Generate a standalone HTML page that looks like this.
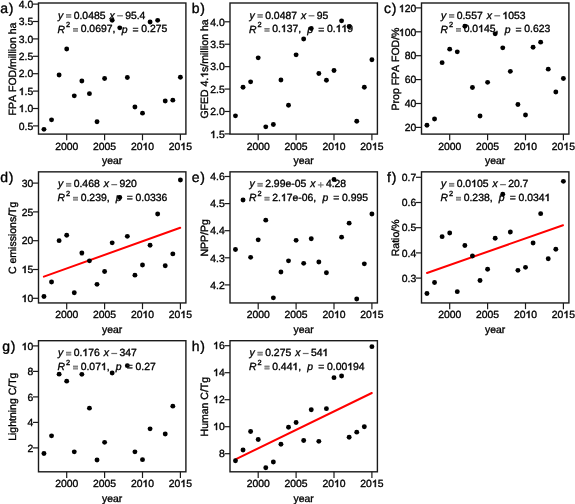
<!DOCTYPE html>
<html><head><meta charset="utf-8"><style>
html,body{margin:0;padding:0;background:#fff;}
body{width:575px;height:504px;overflow:hidden;}
svg{display:block;will-change:transform;filter:blur(0.3px);}
text{font-family:"Liberation Sans",sans-serif;fill:#000;stroke:#000;stroke-width:0.35px;font-kerning:none;text-rendering:geometricPrecision;}
.h1{fill:none;stroke:none;}
#g1{fill:#000;stroke:#000;stroke-width:0.55px;}
.bx{fill:none;stroke:#1a1a1a;stroke-width:1.4;}
.tk{stroke:#1a1a1a;stroke-width:1.2;}
.xt{font-size:10.4px;text-anchor:middle;}
.yl{font-size:10.5px;text-anchor:middle;}
.yt{font-size:10.4px;text-anchor:end;}
.pl{font-size:14.0px;}
.eq{font-size:10.4px;}
.it{font-style:italic;}
.sup{font-size:7.4px;}
.eq3{fill:#222;stroke:#222;}
.gq{fill:#6a6a6a;}
.gq2{fill:#444;}
.rl{stroke:#ff0000;stroke-width:2;stroke-linecap:round;}
circle{fill:#000;}
</style></head><body>
<svg width="575" height="504" viewBox="0 0 575 504">
<defs><path id="g1" vector-effect="non-scaling-stroke" d="M583,0L763,0L763,1409L646,1409C615,1347 562,1283 488,1217C414,1151 326,1098 223,1062L223,889C280,909 344,940 416,981C488,1022 543,1063 583,1103Z"/></defs>
<g><rect x="38.5" y="3" width="147.4" height="131.1" class="bx"/>
<line x1="66.7" y1="134.1" x2="66.7" y2="140.3" class="tk"/>
<text x="55.13" y="150" class="" style="font-size:10.4px">2000</text>
<line x1="104.6" y1="134.1" x2="104.6" y2="140.3" class="tk"/>
<text x="93.03" y="150" class="" style="font-size:10.4px">2005</text>
<line x1="142.5" y1="134.1" x2="142.5" y2="140.3" class="tk"/>
<text x="130.93" y="150" class="" style="font-size:10.4px">20<tspan class="h1">1</tspan>0</text><use href="#g1" transform="translate(142.5,150) scale(0.00508,-0.00508)"/>
<line x1="180.4" y1="134.1" x2="180.4" y2="140.3" class="tk"/>
<text x="168.83" y="150" class="" style="font-size:10.4px">20<tspan class="h1">1</tspan>5</text><use href="#g1" transform="translate(180.4,150) scale(0.00508,-0.00508)"/>
<text x="102.08" y="164" class="" style="font-size:10.4px">year</text>
<line x1="33" y1="4.1" x2="38.5" y2="4.1" class="tk"/>
<text x="18.74" y="8" class="" style="font-size:10.4px">4.0</text>
<line x1="33" y1="21.5" x2="38.5" y2="21.5" class="tk"/>
<text x="18.74" y="25" class="" style="font-size:10.4px">3.5</text>
<line x1="33" y1="38.9" x2="38.5" y2="38.9" class="tk"/>
<text x="18.74" y="43" class="" style="font-size:10.4px">3.0</text>
<line x1="33" y1="56.3" x2="38.5" y2="56.3" class="tk"/>
<text x="18.74" y="60" class="" style="font-size:10.4px">2.5</text>
<line x1="33" y1="73.7" x2="38.5" y2="73.7" class="tk"/>
<text x="18.74" y="77" class="" style="font-size:10.4px">2.0</text>
<line x1="33" y1="91.1" x2="38.5" y2="91.1" class="tk"/>
<text x="18.74" y="95" class="" style="font-size:10.4px"><tspan class="h1">1</tspan>.5</text><use href="#g1" transform="translate(18.74,95) scale(0.00508,-0.00508)"/>
<line x1="33" y1="108.5" x2="38.5" y2="108.5" class="tk"/>
<text x="18.74" y="112" class="" style="font-size:10.4px"><tspan class="h1">1</tspan>.0</text><use href="#g1" transform="translate(18.74,112) scale(0.00508,-0.00508)"/>
<line x1="33" y1="125.9" x2="38.5" y2="125.9" class="tk"/>
<text x="18.74" y="130" class="" style="font-size:10.4px">0.5</text>
<g transform="translate(16,69) rotate(-90)"><text x="-46.39" y="0" class="" style="font-size:10.5px">FPA FOD/million ha</text></g>
<text x="0.21" y="13.3" class="pl">a</text>
<text x="8.7" y="13.3" class="pl">)</text>
<circle cx="43.96" cy="129.35" r="2.45"/>
<circle cx="51.54" cy="119.85" r="2.45"/>
<circle cx="59.12" cy="75.05" r="2.45"/>
<circle cx="66.7" cy="48.95" r="2.45"/>
<circle cx="74.28" cy="95.85" r="2.45"/>
<circle cx="81.86" cy="81.05" r="2.45"/>
<circle cx="89.44" cy="93.65" r="2.45"/>
<circle cx="97.02" cy="121.75" r="2.45"/>
<circle cx="104.6" cy="78.55" r="2.45"/>
<circle cx="112.18" cy="20.35" r="2.45"/>
<circle cx="119.76" cy="27.85" r="2.45"/>
<circle cx="127.34" cy="77.55" r="2.45"/>
<circle cx="134.92" cy="106.95" r="2.45"/>
<circle cx="142.5" cy="113.15" r="2.45"/>
<circle cx="150.08" cy="21.95" r="2.45"/>
<circle cx="157.66" cy="20.35" r="2.45"/>
<circle cx="165.24" cy="100.95" r="2.45"/>
<circle cx="172.82" cy="100.15" r="2.45"/>
<circle cx="180.4" cy="77.25" r="2.45"/>
<text x="58" y="18.6" class="eq it">y</text>
<rect x="66" y="14.1" width="5.2" height="3.7" fill="#b0b0b0"/><rect x="66" y="14.1" width="5.2" height="1.2" fill="#7a7a7a"/><rect x="66" y="16.6" width="5.2" height="1.2" fill="#888"/>
<text x="73.7" y="19" class="" style="font-size:10.4px">0.0485</text>
<text x="109.51" y="18.6" class="eq it">x</text>
<rect x="117.11" y="15.2" width="5.8" height="1.2" fill="#6a6a6a"/>
<text x="125.18" y="19" class="" style="font-size:10.4px">95.4</text>
<text x="57.5" y="32.5" class="eq it">R</text>
<text x="66.05" y="27.4" class="sup">2</text>
<rect x="73" y="28" width="5" height="3.7" fill="#b0b0b0"/><rect x="73" y="28" width="5" height="1.2" fill="#7a7a7a"/><rect x="73" y="30.5" width="5" height="1.2" fill="#888"/>
<text x="80.7" y="32" class="" style="font-size:10.4px">0.0697,</text>
<text x="121.65" y="32.5" class="eq it">p</text>
<text x="132.59" y="32.5" class="eq eq3">=</text>
<text x="141.3" y="32" class="" style="font-size:10.4px">0.275</text></g>
<g><rect x="230" y="3" width="147.4" height="131.1" class="bx"/>
<line x1="258.2" y1="134.1" x2="258.2" y2="140.3" class="tk"/>
<text x="246.63" y="150" class="" style="font-size:10.4px">2000</text>
<line x1="296.1" y1="134.1" x2="296.1" y2="140.3" class="tk"/>
<text x="284.53" y="150" class="" style="font-size:10.4px">2005</text>
<line x1="334" y1="134.1" x2="334" y2="140.3" class="tk"/>
<text x="322.43" y="150" class="" style="font-size:10.4px">20<tspan class="h1">1</tspan>0</text><use href="#g1" transform="translate(334,150) scale(0.00508,-0.00508)"/>
<line x1="371.9" y1="134.1" x2="371.9" y2="140.3" class="tk"/>
<text x="360.33" y="150" class="" style="font-size:10.4px">20<tspan class="h1">1</tspan>5</text><use href="#g1" transform="translate(371.9,150) scale(0.00508,-0.00508)"/>
<text x="293.58" y="164" class="" style="font-size:10.4px">year</text>
<line x1="224.5" y1="21.8" x2="230" y2="21.8" class="tk"/>
<text x="210.24" y="26" class="" style="font-size:10.4px">4.0</text>
<line x1="224.5" y1="44.22" x2="230" y2="44.22" class="tk"/>
<text x="210.24" y="48" class="" style="font-size:10.4px">3.5</text>
<line x1="224.5" y1="66.64" x2="230" y2="66.64" class="tk"/>
<text x="210.24" y="70" class="" style="font-size:10.4px">3.0</text>
<line x1="224.5" y1="89.06" x2="230" y2="89.06" class="tk"/>
<text x="210.24" y="93" class="" style="font-size:10.4px">2.5</text>
<line x1="224.5" y1="111.48" x2="230" y2="111.48" class="tk"/>
<text x="210.24" y="115" class="" style="font-size:10.4px">2.0</text>
<line x1="224.5" y1="133.9" x2="230" y2="133.9" class="tk"/>
<text x="210.24" y="138" class="" style="font-size:10.4px"><tspan class="h1">1</tspan>.5</text><use href="#g1" transform="translate(210.24,138) scale(0.00508,-0.00508)"/>
<g transform="translate(208,69) rotate(-90)"><text x="-49.6" y="0" class="" style="font-size:10.5px">GFED 4.<tspan class="h1">1</tspan>s/million ha</text><use href="#g1" transform="translate(-8.76,0) scale(0.00513,-0.00513)"/></g>
<text x="191.71" y="13.3" class="pl">b</text>
<text x="200.2" y="13.3" class="pl">)</text>
<circle cx="235.46" cy="115.85" r="2.45"/>
<circle cx="243.04" cy="87.25" r="2.45"/>
<circle cx="250.62" cy="81.85" r="2.45"/>
<circle cx="258.2" cy="57.85" r="2.45"/>
<circle cx="265.78" cy="126.85" r="2.45"/>
<circle cx="273.36" cy="124.45" r="2.45"/>
<circle cx="280.94" cy="79.95" r="2.45"/>
<circle cx="288.52" cy="105.25" r="2.45"/>
<circle cx="296.1" cy="54.85" r="2.45"/>
<circle cx="303.68" cy="38.95" r="2.45"/>
<circle cx="311.26" cy="28.45" r="2.45"/>
<circle cx="318.84" cy="73.45" r="2.45"/>
<circle cx="326.42" cy="80.25" r="2.45"/>
<circle cx="334" cy="70.45" r="2.45"/>
<circle cx="341.58" cy="20.85" r="2.45"/>
<circle cx="349.16" cy="26.55" r="2.45"/>
<circle cx="356.74" cy="121.25" r="2.45"/>
<circle cx="364.32" cy="87.25" r="2.45"/>
<circle cx="371.9" cy="59.75" r="2.45"/>
<text x="249.5" y="18.6" class="eq it">y</text>
<rect x="257.5" y="14.1" width="5.2" height="3.7" fill="#b0b0b0"/><rect x="257.5" y="14.1" width="5.2" height="1.2" fill="#7a7a7a"/><rect x="257.5" y="16.6" width="5.2" height="1.2" fill="#888"/>
<text x="265.2" y="19" class="" style="font-size:10.4px">0.0487</text>
<text x="301.01" y="18.6" class="eq it">x</text>
<rect x="308.61" y="15.2" width="5.8" height="1.2" fill="#6a6a6a"/>
<text x="316.68" y="19" class="" style="font-size:10.4px">95</text>
<text x="249" y="32.5" class="eq it">R</text>
<text x="257.55" y="27.4" class="sup">2</text>
<rect x="264.5" y="28" width="5" height="3.7" fill="#b0b0b0"/><rect x="264.5" y="28" width="5" height="1.2" fill="#7a7a7a"/><rect x="264.5" y="30.5" width="5" height="1.2" fill="#888"/>
<text x="272.2" y="32" class="" style="font-size:10.4px">0.<tspan class="h1">1</tspan>37,</text><use href="#g1" transform="translate(280.87,32) scale(0.00508,-0.00508)"/>
<text x="307.36" y="32.5" class="eq it">p</text>
<text x="318.3" y="32.5" class="eq eq3">=</text>
<text x="327.01" y="32" class="" style="font-size:10.4px">0.<tspan class="h1">1</tspan><tspan class="h1">1</tspan>9</text><use href="#g1" transform="translate(335.69,32) scale(0.00508,-0.00508)"/><use href="#g1" transform="translate(341.47,32) scale(0.00508,-0.00508)"/></g>
<g><rect x="421.5" y="3" width="147.4" height="131.1" class="bx"/>
<line x1="449.7" y1="134.1" x2="449.7" y2="140.3" class="tk"/>
<text x="438.13" y="150" class="" style="font-size:10.4px">2000</text>
<line x1="487.6" y1="134.1" x2="487.6" y2="140.3" class="tk"/>
<text x="476.03" y="150" class="" style="font-size:10.4px">2005</text>
<line x1="525.5" y1="134.1" x2="525.5" y2="140.3" class="tk"/>
<text x="513.93" y="150" class="" style="font-size:10.4px">20<tspan class="h1">1</tspan>0</text><use href="#g1" transform="translate(525.5,150) scale(0.00508,-0.00508)"/>
<line x1="563.4" y1="134.1" x2="563.4" y2="140.3" class="tk"/>
<text x="551.83" y="150" class="" style="font-size:10.4px">20<tspan class="h1">1</tspan>5</text><use href="#g1" transform="translate(563.4,150) scale(0.00508,-0.00508)"/>
<text x="485.08" y="164" class="" style="font-size:10.4px">year</text>
<line x1="416" y1="7.9" x2="421.5" y2="7.9" class="tk"/>
<text x="398.85" y="12" class="" style="font-size:10.4px"><tspan class="h1">1</tspan>20</text><use href="#g1" transform="translate(398.85,12) scale(0.00508,-0.00508)"/>
<line x1="416" y1="31.8" x2="421.5" y2="31.8" class="tk"/>
<text x="398.85" y="36" class="" style="font-size:10.4px"><tspan class="h1">1</tspan>00</text><use href="#g1" transform="translate(398.85,36) scale(0.00508,-0.00508)"/>
<line x1="416" y1="55.7" x2="421.5" y2="55.7" class="tk"/>
<text x="404.63" y="59" class="" style="font-size:10.4px">80</text>
<line x1="416" y1="79.6" x2="421.5" y2="79.6" class="tk"/>
<text x="404.63" y="83" class="" style="font-size:10.4px">60</text>
<line x1="416" y1="103.5" x2="421.5" y2="103.5" class="tk"/>
<text x="404.63" y="107" class="" style="font-size:10.4px">40</text>
<line x1="416" y1="127.4" x2="421.5" y2="127.4" class="tk"/>
<text x="404.63" y="131" class="" style="font-size:10.4px">20</text>
<g transform="translate(399,69) rotate(-90)"><text x="-41.43" y="0" class="" style="font-size:10.5px">Prop FPA FOD/%</text></g>
<text x="384" y="13.3" class="pl">c</text>
<text x="391.7" y="13.3" class="pl">)</text>
<circle cx="426.96" cy="125.25" r="2.45"/>
<circle cx="434.54" cy="119.05" r="2.45"/>
<circle cx="442.12" cy="62.65" r="2.45"/>
<circle cx="449.7" cy="49.15" r="2.45"/>
<circle cx="457.28" cy="51.85" r="2.45"/>
<circle cx="464.86" cy="26.25" r="2.45"/>
<circle cx="472.44" cy="87.45" r="2.45"/>
<circle cx="480.02" cy="116.05" r="2.45"/>
<circle cx="487.6" cy="82.35" r="2.45"/>
<circle cx="495.18" cy="33.85" r="2.45"/>
<circle cx="502.76" cy="47.85" r="2.45"/>
<circle cx="510.34" cy="71.35" r="2.45"/>
<circle cx="517.92" cy="104.45" r="2.45"/>
<circle cx="525.5" cy="115.05" r="2.45"/>
<circle cx="533.08" cy="47.25" r="2.45"/>
<circle cx="540.66" cy="42.15" r="2.45"/>
<circle cx="548.24" cy="69.15" r="2.45"/>
<circle cx="555.82" cy="92.05" r="2.45"/>
<circle cx="563.4" cy="78.55" r="2.45"/>
<text x="441" y="18.6" class="eq it">y</text>
<rect x="449" y="14.1" width="5.2" height="3.7" fill="#b0b0b0"/><rect x="449" y="14.1" width="5.2" height="1.2" fill="#7a7a7a"/><rect x="449" y="16.6" width="5.2" height="1.2" fill="#888"/>
<text x="456.7" y="19" class="" style="font-size:10.4px">0.557</text>
<text x="486.73" y="18.6" class="eq it">x</text>
<rect x="494.33" y="15.2" width="5.8" height="1.2" fill="#6a6a6a"/>
<text x="502.4" y="19" class="" style="font-size:10.4px"><tspan class="h1">1</tspan>053</text><use href="#g1" transform="translate(502.4,19) scale(0.00508,-0.00508)"/>
<text x="440.5" y="32.5" class="eq it">R</text>
<text x="449.05" y="27.4" class="sup">2</text>
<rect x="456" y="28" width="5" height="3.7" fill="#b0b0b0"/><rect x="456" y="28" width="5" height="1.2" fill="#7a7a7a"/><rect x="456" y="30.5" width="5" height="1.2" fill="#888"/>
<text x="463.7" y="32" class="" style="font-size:10.4px">0.0<tspan class="h1">1</tspan>45,</text><use href="#g1" transform="translate(478.16,32) scale(0.00508,-0.00508)"/>
<text x="504.65" y="32.5" class="eq it">p</text>
<text x="515.59" y="32.5" class="eq eq3">=</text>
<text x="524.3" y="32" class="" style="font-size:10.4px">0.623</text></g>
<g><rect x="38.5" y="171.85" width="147.4" height="131.1" class="bx"/>
<line x1="66.7" y1="302.95" x2="66.7" y2="309.15" class="tk"/>
<text x="55.13" y="318" class="" style="font-size:10.4px">2000</text>
<line x1="104.6" y1="302.95" x2="104.6" y2="309.15" class="tk"/>
<text x="93.03" y="318" class="" style="font-size:10.4px">2005</text>
<line x1="142.5" y1="302.95" x2="142.5" y2="309.15" class="tk"/>
<text x="130.93" y="318" class="" style="font-size:10.4px">20<tspan class="h1">1</tspan>0</text><use href="#g1" transform="translate(142.5,318) scale(0.00508,-0.00508)"/>
<line x1="180.4" y1="302.95" x2="180.4" y2="309.15" class="tk"/>
<text x="168.83" y="318" class="" style="font-size:10.4px">20<tspan class="h1">1</tspan>5</text><use href="#g1" transform="translate(180.4,318) scale(0.00508,-0.00508)"/>
<text x="102.08" y="333" class="" style="font-size:10.4px">year</text>
<line x1="33" y1="183.1" x2="38.5" y2="183.1" class="tk"/>
<text x="21.63" y="187" class="" style="font-size:10.4px">30</text>
<line x1="33" y1="211.9" x2="38.5" y2="211.9" class="tk"/>
<text x="21.63" y="216" class="" style="font-size:10.4px">25</text>
<line x1="33" y1="240.7" x2="38.5" y2="240.7" class="tk"/>
<text x="21.63" y="244" class="" style="font-size:10.4px">20</text>
<line x1="33" y1="269.5" x2="38.5" y2="269.5" class="tk"/>
<text x="21.63" y="273" class="" style="font-size:10.4px"><tspan class="h1">1</tspan>5</text><use href="#g1" transform="translate(21.63,273) scale(0.00508,-0.00508)"/>
<line x1="33" y1="298.3" x2="38.5" y2="298.3" class="tk"/>
<text x="21.63" y="302" class="" style="font-size:10.4px"><tspan class="h1">1</tspan>0</text><use href="#g1" transform="translate(21.63,302) scale(0.00508,-0.00508)"/>
<g transform="translate(16,237.85) rotate(-90)"><text x="-36.18" y="0" class="" style="font-size:10.5px">C emissions/Tg</text></g>
<text x="0.21" y="182.15" class="pl">d</text>
<text x="8.7" y="182.15" class="pl">)</text>
<line x1="43.9" y1="276.6" x2="180.2" y2="227.8" class="rl"/>
<circle cx="43.96" cy="296.45" r="2.45"/>
<circle cx="51.54" cy="281.95" r="2.45"/>
<circle cx="59.12" cy="240.65" r="2.45"/>
<circle cx="66.7" cy="235.25" r="2.45"/>
<circle cx="74.28" cy="292.75" r="2.45"/>
<circle cx="81.86" cy="253.05" r="2.45"/>
<circle cx="89.44" cy="260.85" r="2.45"/>
<circle cx="97.02" cy="284.35" r="2.45"/>
<circle cx="104.6" cy="271.45" r="2.45"/>
<circle cx="112.18" cy="242.85" r="2.45"/>
<circle cx="119.76" cy="197.45" r="2.45"/>
<circle cx="127.34" cy="236.35" r="2.45"/>
<circle cx="134.92" cy="275.15" r="2.45"/>
<circle cx="142.5" cy="264.95" r="2.45"/>
<circle cx="150.08" cy="245.25" r="2.45"/>
<circle cx="157.66" cy="213.95" r="2.45"/>
<circle cx="165.24" cy="265.75" r="2.45"/>
<circle cx="172.82" cy="253.85" r="2.45"/>
<circle cx="180.4" cy="179.95" r="2.45"/>
<text x="58" y="187.45" class="eq it">y</text>
<rect x="66" y="182.95" width="5.2" height="3.7" fill="#b0b0b0"/><rect x="66" y="182.95" width="5.2" height="1.2" fill="#7a7a7a"/><rect x="66" y="185.45" width="5.2" height="1.2" fill="#888"/>
<text x="73.7" y="187" class="" style="font-size:10.4px">0.468</text>
<text x="103.73" y="187.45" class="eq it">x</text>
<rect x="111.33" y="184.05" width="5.8" height="1.2" fill="#6a6a6a"/>
<text x="119.4" y="187" class="" style="font-size:10.4px">920</text>
<text x="57.5" y="201.35" class="eq it">R</text>
<text x="66.05" y="196.25" class="sup">2</text>
<rect x="73" y="196.85" width="5" height="3.7" fill="#b0b0b0"/><rect x="73" y="196.85" width="5" height="1.2" fill="#7a7a7a"/><rect x="73" y="199.35" width="5" height="1.2" fill="#888"/>
<text x="80.7" y="201" class="" style="font-size:10.4px">0.239,</text>
<text x="115.86" y="201.35" class="eq it">p</text>
<text x="126.8" y="201.35" class="eq eq3">=</text>
<text x="135.51" y="201" class="" style="font-size:10.4px">0.0336</text></g>
<g><rect x="230" y="171.85" width="147.4" height="131.1" class="bx"/>
<line x1="258.2" y1="302.95" x2="258.2" y2="309.15" class="tk"/>
<text x="246.63" y="318" class="" style="font-size:10.4px">2000</text>
<line x1="296.1" y1="302.95" x2="296.1" y2="309.15" class="tk"/>
<text x="284.53" y="318" class="" style="font-size:10.4px">2005</text>
<line x1="334" y1="302.95" x2="334" y2="309.15" class="tk"/>
<text x="322.43" y="318" class="" style="font-size:10.4px">20<tspan class="h1">1</tspan>0</text><use href="#g1" transform="translate(334,318) scale(0.00508,-0.00508)"/>
<line x1="371.9" y1="302.95" x2="371.9" y2="309.15" class="tk"/>
<text x="360.33" y="318" class="" style="font-size:10.4px">20<tspan class="h1">1</tspan>5</text><use href="#g1" transform="translate(371.9,318) scale(0.00508,-0.00508)"/>
<text x="293.58" y="333" class="" style="font-size:10.4px">year</text>
<line x1="224.5" y1="176.5" x2="230" y2="176.5" class="tk"/>
<text x="210.24" y="180" class="" style="font-size:10.4px">4.6</text>
<line x1="224.5" y1="203.6" x2="230" y2="203.6" class="tk"/>
<text x="210.24" y="207" class="" style="font-size:10.4px">4.5</text>
<line x1="224.5" y1="230.7" x2="230" y2="230.7" class="tk"/>
<text x="210.24" y="234" class="" style="font-size:10.4px">4.4</text>
<line x1="224.5" y1="257.8" x2="230" y2="257.8" class="tk"/>
<text x="210.24" y="262" class="" style="font-size:10.4px">4.3</text>
<line x1="224.5" y1="284.9" x2="230" y2="284.9" class="tk"/>
<text x="210.24" y="289" class="" style="font-size:10.4px">4.2</text>
<g transform="translate(208,237.85) rotate(-90)"><text x="-18.67" y="0" class="" style="font-size:10.5px">NPP/Pg</text></g>
<text x="191.71" y="182.15" class="pl">e</text>
<text x="200.2" y="182.15" class="pl">)</text>
<circle cx="235.46" cy="249.55" r="2.45"/>
<circle cx="243.04" cy="199.95" r="2.45"/>
<circle cx="250.62" cy="257.35" r="2.45"/>
<circle cx="258.2" cy="239.85" r="2.45"/>
<circle cx="265.78" cy="220.15" r="2.45"/>
<circle cx="273.36" cy="297.85" r="2.45"/>
<circle cx="280.94" cy="271.95" r="2.45"/>
<circle cx="288.52" cy="260.85" r="2.45"/>
<circle cx="296.1" cy="240.35" r="2.45"/>
<circle cx="303.68" cy="263.35" r="2.45"/>
<circle cx="311.26" cy="238.75" r="2.45"/>
<circle cx="318.84" cy="261.95" r="2.45"/>
<circle cx="326.42" cy="272.75" r="2.45"/>
<circle cx="334" cy="179.45" r="2.45"/>
<circle cx="341.58" cy="237.15" r="2.45"/>
<circle cx="349.16" cy="223.15" r="2.45"/>
<circle cx="356.74" cy="298.95" r="2.45"/>
<circle cx="364.32" cy="263.85" r="2.45"/>
<circle cx="371.9" cy="213.95" r="2.45"/>
<text x="249.5" y="187.45" class="eq it">y</text>
<rect x="257.5" y="182.95" width="5.2" height="3.7" fill="#b0b0b0"/><rect x="257.5" y="182.95" width="5.2" height="1.2" fill="#7a7a7a"/><rect x="257.5" y="185.45" width="5.2" height="1.2" fill="#888"/>
<text x="265.2" y="187" class="" style="font-size:10.4px">2.99e-05</text>
<text x="310.26" y="187.45" class="eq it">x</text>
<rect x="317.86" y="184.35" width="5.8" height="1.2" fill="#777"/><rect x="320.16" y="182.15" width="1.2" height="5.4" fill="#777"/>
<text x="325.93" y="187" class="" style="font-size:10.4px">4.28</text>
<text x="249" y="201.35" class="eq it">R</text>
<text x="257.55" y="196.25" class="sup">2</text>
<rect x="264.5" y="196.85" width="5" height="3.7" fill="#b0b0b0"/><rect x="264.5" y="196.85" width="5" height="1.2" fill="#7a7a7a"/><rect x="264.5" y="199.35" width="5" height="1.2" fill="#888"/>
<text x="272.2" y="201" class="" style="font-size:10.4px">2.<tspan class="h1">1</tspan>7e-06,</text><use href="#g1" transform="translate(280.87,201) scale(0.00508,-0.00508)"/>
<text x="322.4" y="201.35" class="eq it">p</text>
<text x="333.34" y="201.35" class="eq eq3">=</text>
<text x="342.05" y="201" class="" style="font-size:10.4px">0.995</text></g>
<g><rect x="421.5" y="171.85" width="147.4" height="131.1" class="bx"/>
<line x1="449.7" y1="302.95" x2="449.7" y2="309.15" class="tk"/>
<text x="438.13" y="318" class="" style="font-size:10.4px">2000</text>
<line x1="487.6" y1="302.95" x2="487.6" y2="309.15" class="tk"/>
<text x="476.03" y="318" class="" style="font-size:10.4px">2005</text>
<line x1="525.5" y1="302.95" x2="525.5" y2="309.15" class="tk"/>
<text x="513.93" y="318" class="" style="font-size:10.4px">20<tspan class="h1">1</tspan>0</text><use href="#g1" transform="translate(525.5,318) scale(0.00508,-0.00508)"/>
<line x1="563.4" y1="302.95" x2="563.4" y2="309.15" class="tk"/>
<text x="551.83" y="318" class="" style="font-size:10.4px">20<tspan class="h1">1</tspan>5</text><use href="#g1" transform="translate(563.4,318) scale(0.00508,-0.00508)"/>
<text x="485.08" y="333" class="" style="font-size:10.4px">year</text>
<line x1="416" y1="177.3" x2="421.5" y2="177.3" class="tk"/>
<text x="401.74" y="181" class="" style="font-size:10.4px">0.7</text>
<line x1="416" y1="202.5" x2="421.5" y2="202.5" class="tk"/>
<text x="401.74" y="206" class="" style="font-size:10.4px">0.6</text>
<line x1="416" y1="227.7" x2="421.5" y2="227.7" class="tk"/>
<text x="401.74" y="231" class="" style="font-size:10.4px">0.5</text>
<line x1="416" y1="252.9" x2="421.5" y2="252.9" class="tk"/>
<text x="401.74" y="257" class="" style="font-size:10.4px">0.4</text>
<line x1="416" y1="278.1" x2="421.5" y2="278.1" class="tk"/>
<text x="401.74" y="282" class="" style="font-size:10.4px">0.3</text>
<g transform="translate(399,237.85) rotate(-90)"><text x="-18.38" y="0" class="" style="font-size:10.5px">Ratio/%</text></g>
<text x="387.11" y="182.15" class="pl">f</text>
<text x="391.7" y="182.15" class="pl">)</text>
<line x1="427" y1="273" x2="563" y2="225.2" class="rl"/>
<circle cx="426.96" cy="293.55" r="2.45"/>
<circle cx="434.54" cy="282.45" r="2.45"/>
<circle cx="442.12" cy="236.65" r="2.45"/>
<circle cx="449.7" cy="233.05" r="2.45"/>
<circle cx="457.28" cy="291.65" r="2.45"/>
<circle cx="464.86" cy="245.55" r="2.45"/>
<circle cx="472.44" cy="256.05" r="2.45"/>
<circle cx="480.02" cy="280.55" r="2.45"/>
<circle cx="487.6" cy="269.25" r="2.45"/>
<circle cx="495.18" cy="238.25" r="2.45"/>
<circle cx="502.76" cy="194.25" r="2.45"/>
<circle cx="510.34" cy="232.05" r="2.45"/>
<circle cx="517.92" cy="270.35" r="2.45"/>
<circle cx="525.5" cy="267.35" r="2.45"/>
<circle cx="533.08" cy="243.05" r="2.45"/>
<circle cx="540.66" cy="213.65" r="2.45"/>
<circle cx="548.24" cy="258.75" r="2.45"/>
<circle cx="555.82" cy="249.25" r="2.45"/>
<circle cx="563.4" cy="181.35" r="2.45"/>
<text x="441" y="187.45" class="eq it">y</text>
<rect x="449" y="182.95" width="5.2" height="3.7" fill="#b0b0b0"/><rect x="449" y="182.95" width="5.2" height="1.2" fill="#7a7a7a"/><rect x="449" y="185.45" width="5.2" height="1.2" fill="#888"/>
<text x="456.7" y="187" class="" style="font-size:10.4px">0.0<tspan class="h1">1</tspan>05</text><use href="#g1" transform="translate(471.16,187) scale(0.00508,-0.00508)"/>
<text x="492.51" y="187.45" class="eq it">x</text>
<rect x="500.11" y="184.05" width="5.8" height="1.2" fill="#6a6a6a"/>
<text x="508.18" y="187" class="" style="font-size:10.4px">20.7</text>
<text x="440.5" y="201.35" class="eq it">R</text>
<text x="449.05" y="196.25" class="sup">2</text>
<rect x="456" y="196.85" width="5" height="3.7" fill="#b0b0b0"/><rect x="456" y="196.85" width="5" height="1.2" fill="#7a7a7a"/><rect x="456" y="199.35" width="5" height="1.2" fill="#888"/>
<text x="463.7" y="201" class="" style="font-size:10.4px">0.238,</text>
<text x="498.86" y="201.35" class="eq it">p</text>
<text x="509.8" y="201.35" class="eq eq3">=</text>
<text x="518.51" y="201" class="" style="font-size:10.4px">0.034<tspan class="h1">1</tspan></text><use href="#g1" transform="translate(544.54,201) scale(0.00508,-0.00508)"/></g>
<g><rect x="38.5" y="340.7" width="147.4" height="131.1" class="bx"/>
<line x1="66.7" y1="471.8" x2="66.7" y2="478" class="tk"/>
<text x="55.13" y="487" class="" style="font-size:10.4px">2000</text>
<line x1="104.6" y1="471.8" x2="104.6" y2="478" class="tk"/>
<text x="93.03" y="487" class="" style="font-size:10.4px">2005</text>
<line x1="142.5" y1="471.8" x2="142.5" y2="478" class="tk"/>
<text x="130.93" y="487" class="" style="font-size:10.4px">20<tspan class="h1">1</tspan>0</text><use href="#g1" transform="translate(142.5,487) scale(0.00508,-0.00508)"/>
<line x1="180.4" y1="471.8" x2="180.4" y2="478" class="tk"/>
<text x="168.83" y="487" class="" style="font-size:10.4px">20<tspan class="h1">1</tspan>5</text><use href="#g1" transform="translate(180.4,487) scale(0.00508,-0.00508)"/>
<text x="102.08" y="502" class="" style="font-size:10.4px">year</text>
<line x1="33" y1="345.9" x2="38.5" y2="345.9" class="tk"/>
<text x="21.63" y="350" class="" style="font-size:10.4px"><tspan class="h1">1</tspan>0</text><use href="#g1" transform="translate(21.63,350) scale(0.00508,-0.00508)"/>
<line x1="33" y1="371.4" x2="38.5" y2="371.4" class="tk"/>
<text x="27.42" y="375" class="" style="font-size:10.4px">8</text>
<line x1="33" y1="396.9" x2="38.5" y2="396.9" class="tk"/>
<text x="27.42" y="401" class="" style="font-size:10.4px">6</text>
<line x1="33" y1="422.4" x2="38.5" y2="422.4" class="tk"/>
<text x="27.42" y="426" class="" style="font-size:10.4px">4</text>
<line x1="33" y1="447.9" x2="38.5" y2="447.9" class="tk"/>
<text x="27.42" y="452" class="" style="font-size:10.4px">2</text>
<g transform="translate(16,406.7) rotate(-90)"><text x="-34.15" y="0" class="" style="font-size:10.5px">Lightning C/Tg</text></g>
<text x="2.31" y="351" class="pl">g</text>
<text x="10.8" y="351" class="pl">)</text>
<circle cx="43.96" cy="453.45" r="2.45"/>
<circle cx="51.54" cy="435.85" r="2.45"/>
<circle cx="59.12" cy="374.15" r="2.45"/>
<circle cx="66.7" cy="381.15" r="2.45"/>
<circle cx="74.28" cy="451.85" r="2.45"/>
<circle cx="81.86" cy="374.35" r="2.45"/>
<circle cx="89.44" cy="408.15" r="2.45"/>
<circle cx="97.02" cy="459.95" r="2.45"/>
<circle cx="104.6" cy="442.35" r="2.45"/>
<circle cx="112.18" cy="372.95" r="2.45"/>
<circle cx="127.34" cy="365.65" r="2.45"/>
<circle cx="134.92" cy="451.85" r="2.45"/>
<circle cx="142.5" cy="459.65" r="2.45"/>
<circle cx="150.08" cy="428.85" r="2.45"/>
<circle cx="165.24" cy="434.05" r="2.45"/>
<circle cx="172.82" cy="406.15" r="2.45"/>
<text x="58" y="356.3" class="eq it">y</text>
<rect x="66" y="351.8" width="5.2" height="3.7" fill="#b0b0b0"/><rect x="66" y="351.8" width="5.2" height="1.2" fill="#7a7a7a"/><rect x="66" y="354.3" width="5.2" height="1.2" fill="#888"/>
<text x="73.7" y="356" class="" style="font-size:10.4px">0.<tspan class="h1">1</tspan>76</text><use href="#g1" transform="translate(82.37,356) scale(0.00508,-0.00508)"/>
<text x="103.73" y="356.3" class="eq it">x</text>
<rect x="111.33" y="352.9" width="5.8" height="1.2" fill="#6a6a6a"/>
<text x="119.4" y="356" class="" style="font-size:10.4px">347</text>
<text x="57.5" y="370.2" class="eq it">R</text>
<text x="66.05" y="365.1" class="sup">2</text>
<rect x="73" y="365.7" width="5" height="3.7" fill="#b0b0b0"/><rect x="73" y="365.7" width="5" height="1.2" fill="#7a7a7a"/><rect x="73" y="368.2" width="5" height="1.2" fill="#888"/>
<text x="80.7" y="370" class="" style="font-size:10.4px">0.07<tspan class="h1">1</tspan>,</text><use href="#g1" transform="translate(100.94,370) scale(0.00508,-0.00508)"/>
<text x="115.86" y="370.2" class="eq it">p</text>
<text x="126.8" y="370.2" class="eq eq3">=</text>
<text x="135.51" y="370" class="" style="font-size:10.4px">0.27</text></g>
<g><rect x="230" y="340.7" width="147.4" height="131.1" class="bx"/>
<line x1="258.2" y1="471.8" x2="258.2" y2="478" class="tk"/>
<text x="246.63" y="487" class="" style="font-size:10.4px">2000</text>
<line x1="296.1" y1="471.8" x2="296.1" y2="478" class="tk"/>
<text x="284.53" y="487" class="" style="font-size:10.4px">2005</text>
<line x1="334" y1="471.8" x2="334" y2="478" class="tk"/>
<text x="322.43" y="487" class="" style="font-size:10.4px">20<tspan class="h1">1</tspan>0</text><use href="#g1" transform="translate(334,487) scale(0.00508,-0.00508)"/>
<line x1="371.9" y1="471.8" x2="371.9" y2="478" class="tk"/>
<text x="360.33" y="487" class="" style="font-size:10.4px">20<tspan class="h1">1</tspan>5</text><use href="#g1" transform="translate(371.9,487) scale(0.00508,-0.00508)"/>
<text x="293.58" y="502" class="" style="font-size:10.4px">year</text>
<line x1="224.5" y1="345.7" x2="230" y2="345.7" class="tk"/>
<text x="213.13" y="349" class="" style="font-size:10.4px"><tspan class="h1">1</tspan>6</text><use href="#g1" transform="translate(213.13,349) scale(0.00508,-0.00508)"/>
<line x1="224.5" y1="372.7" x2="230" y2="372.7" class="tk"/>
<text x="213.13" y="376" class="" style="font-size:10.4px"><tspan class="h1">1</tspan>4</text><use href="#g1" transform="translate(213.13,376) scale(0.00508,-0.00508)"/>
<line x1="224.5" y1="399.7" x2="230" y2="399.7" class="tk"/>
<text x="213.13" y="403" class="" style="font-size:10.4px"><tspan class="h1">1</tspan>2</text><use href="#g1" transform="translate(213.13,403) scale(0.00508,-0.00508)"/>
<line x1="224.5" y1="426.7" x2="230" y2="426.7" class="tk"/>
<text x="213.13" y="430" class="" style="font-size:10.4px"><tspan class="h1">1</tspan>0</text><use href="#g1" transform="translate(213.13,430) scale(0.00508,-0.00508)"/>
<line x1="224.5" y1="453.7" x2="230" y2="453.7" class="tk"/>
<text x="218.92" y="457" class="" style="font-size:10.4px">8</text>
<g transform="translate(208,406.7) rotate(-90)"><text x="-29.76" y="0" class="" style="font-size:10.5px">Human C/Tg</text></g>
<text x="191.71" y="351" class="pl">h</text>
<text x="200.2" y="351" class="pl">)</text>
<line x1="235.5" y1="459.3" x2="371.8" y2="393" class="rl"/>
<circle cx="235.46" cy="460.75" r="2.45"/>
<circle cx="243.04" cy="449.95" r="2.45"/>
<circle cx="250.62" cy="431.55" r="2.45"/>
<circle cx="258.2" cy="439.45" r="2.45"/>
<circle cx="265.78" cy="467.75" r="2.45"/>
<circle cx="273.36" cy="462.05" r="2.45"/>
<circle cx="280.94" cy="444.25" r="2.45"/>
<circle cx="288.52" cy="427.25" r="2.45"/>
<circle cx="296.1" cy="422.45" r="2.45"/>
<circle cx="303.68" cy="440.45" r="2.45"/>
<circle cx="311.26" cy="409.75" r="2.45"/>
<circle cx="318.84" cy="441.35" r="2.45"/>
<circle cx="326.42" cy="408.65" r="2.45"/>
<circle cx="334" cy="377.65" r="2.45"/>
<circle cx="341.58" cy="376.05" r="2.45"/>
<circle cx="349.16" cy="437.25" r="2.45"/>
<circle cx="356.74" cy="432.15" r="2.45"/>
<circle cx="364.32" cy="426.75" r="2.45"/>
<circle cx="371.9" cy="346.65" r="2.45"/>
<text x="249.5" y="356.3" class="eq it">y</text>
<rect x="257.5" y="351.8" width="5.2" height="3.7" fill="#b0b0b0"/><rect x="257.5" y="351.8" width="5.2" height="1.2" fill="#7a7a7a"/><rect x="257.5" y="354.3" width="5.2" height="1.2" fill="#888"/>
<text x="265.2" y="356" class="" style="font-size:10.4px">0.275</text>
<text x="295.23" y="356.3" class="eq it">x</text>
<rect x="302.83" y="352.9" width="5.8" height="1.2" fill="#6a6a6a"/>
<text x="310.9" y="356" class="" style="font-size:10.4px">54<tspan class="h1">1</tspan></text><use href="#g1" transform="translate(322.46,356) scale(0.00508,-0.00508)"/>
<text x="249" y="370.2" class="eq it">R</text>
<text x="257.55" y="365.1" class="sup">2</text>
<rect x="264.5" y="365.7" width="5" height="3.7" fill="#b0b0b0"/><rect x="264.5" y="365.7" width="5" height="1.2" fill="#7a7a7a"/><rect x="264.5" y="368.2" width="5" height="1.2" fill="#888"/>
<text x="272.2" y="370" class="" style="font-size:10.4px">0.44<tspan class="h1">1</tspan>,</text><use href="#g1" transform="translate(292.44,370) scale(0.00508,-0.00508)"/>
<text x="307.36" y="370.2" class="eq it">p</text>
<text x="318.3" y="370.2" class="eq eq3">=</text>
<text x="327.01" y="370" class="" style="font-size:10.4px">0.00<tspan class="h1">1</tspan>94</text><use href="#g1" transform="translate(347.26,370) scale(0.00508,-0.00508)"/></g>
</svg>
</body></html>
